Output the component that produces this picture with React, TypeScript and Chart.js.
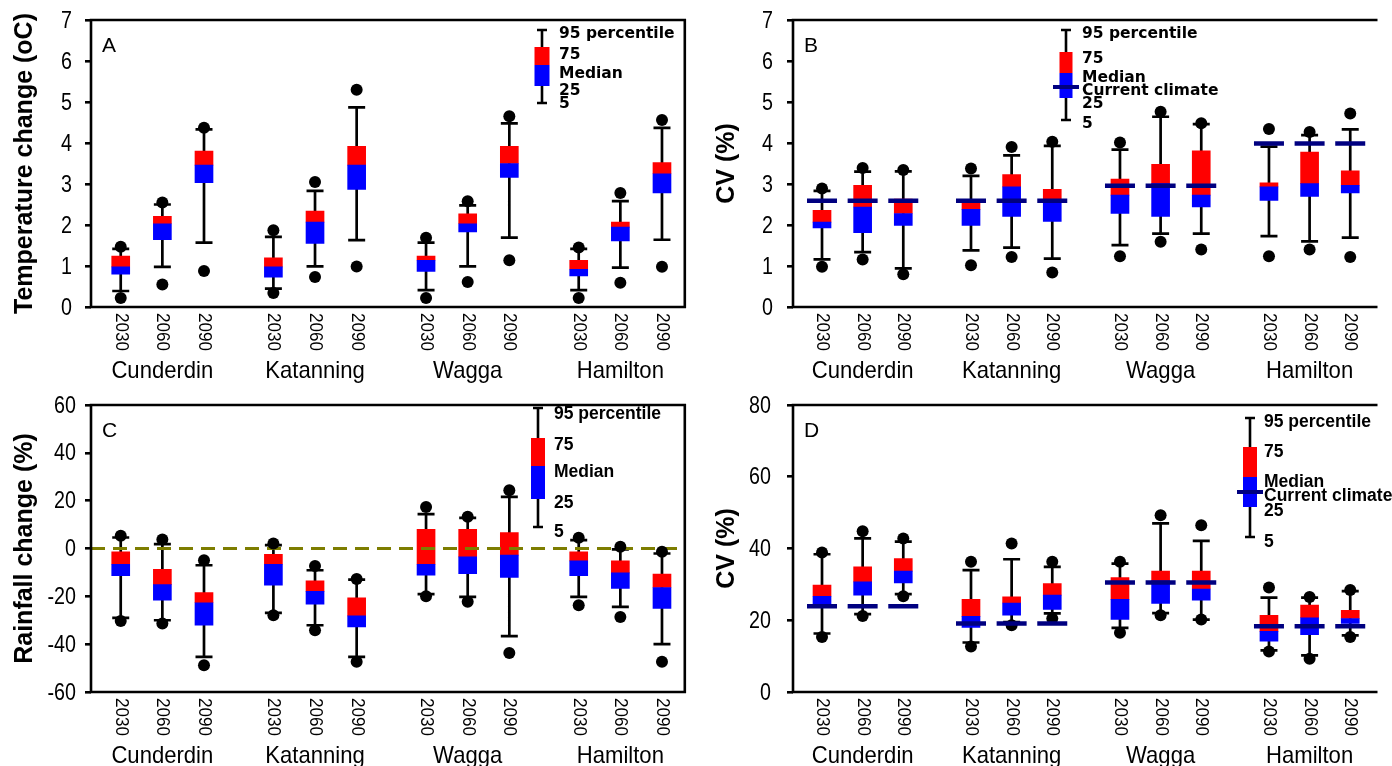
import React, { useEffect, useRef } from "react";
import { Chart, registerables } from "chart.js";

Chart.register(...registerables);

const stations = ["Cunderdin", "Katanning", "Wagga", "Hamilton"];
const periods = ["2030", "2060", "2090"];
const GROUP_STEP = 11 / 3;

// Panel A – temperature change (oC), boxes ordered station-major
const tempP5 = [0.39, 0.98, 1.57, 0.45, 0.99, 1.63, 0.41, 0.99, 1.69, 0.41, 0.96, 1.64];
const tempP25 = [0.8, 1.64, 3.03, 0.73, 1.55, 2.87, 0.87, 1.83, 3.16, 0.76, 1.61, 2.78];
const tempMedian = [0.98, 2.03, 3.46, 0.98, 2.07, 3.46, 1.14, 2.03, 3.5, 0.92, 1.95, 3.25];
const tempP75 = [1.24, 2.21, 3.8, 1.2, 2.34, 3.92, 1.24, 2.27, 3.92, 1.14, 2.07, 3.52];
const tempP95 = [1.42, 2.5, 4.33, 1.71, 2.83, 4.87, 1.57, 2.48, 4.48, 1.42, 2.58, 4.37];
const tempMin = [0.22, 0.55, 0.88, 0.34, 0.73, 0.99, 0.22, 0.61, 1.14, 0.22, 0.59, 0.98];
const tempMax = [1.47, 2.55, 4.37, 1.87, 3.05, 5.3, 1.69, 2.58, 4.65, 1.45, 2.78, 4.56];

// Panel B – CV (%) of temperature
const cvTP5 = [1.16, 1.34, 0.94, 1.38, 1.45, 1.18, 1.51, 1.79, 1.79, 1.73, 1.6, 1.69];
const cvTP25 = [1.93, 1.81, 1.99, 1.99, 2.21, 2.09, 2.28, 2.21, 2.44, 2.6, 2.7, 2.78];
const cvTMedian = [2.07, 2.44, 2.28, 2.38, 2.93, 2.62, 2.73, 3.01, 2.73, 2.93, 3.01, 2.97];
const cvTP75 = [2.36, 2.97, 2.63, 2.59, 3.23, 2.87, 3.12, 3.48, 3.81, 3.03, 3.78, 3.32];
const cvTP95 = [2.83, 3.3, 3.31, 3.2, 3.7, 3.93, 3.84, 4.64, 4.46, 3.91, 4.19, 4.33];
const cvTMin = [0.98, 1.16, 0.8, 1.02, 1.22, 0.84, 1.24, 1.59, 1.4, 1.24, 1.4, 1.22];
const cvTMax = [2.89, 3.39, 3.34, 3.38, 3.9, 4.03, 4.01, 4.76, 4.48, 4.34, 4.27, 4.72];
const cvTCurrent = [2.59, 2.59, 2.96, 3.99];

// Panel C – rainfall change (%)
const rainP5 = [-29, -30, -45.3, -26.9, -32.1, -45.3, -19.1, -20.2, -36.6, -20.2, -24.4, -40];
const rainP25 = [-11.4, -21.6, -32.1, -15.3, -23.3, -32.8, -11.2, -10.5, -12.1, -11.4, -16.7, -25.1];
const rainMedian = [-6.6, -15.1, -22.7, -6.6, -17.9, -28.2, -6.6, -3.5, -2.8, -5.2, -10.2, -16.3];
const rainP75 = [-1.4, -8.7, -18.4, -2.4, -13.5, -20.6, 8, 8, 6.7, -1.4, -5.2, -10.7];
const rainP95 = [4.6, 1.8, -7, 1.4, -9.1, -13, 14.4, 12.8, 21.6, 3.5, -0.4, -2.1];
const rainMin = [-30.3, -31.4, -48.8, -27.9, -34.2, -47.4, -20, -22.3, -43.7, -23.7, -28.6, -47.4];
const rainMax = [5.3, 3.8, -4.9, 2.1, -7.3, -12.8, 17.4, 13.3, 24.4, 4.5, 0.7, -1.4];

// Panel D – CV (%) of rainfall
const cvRP5 = [16.3, 21.7, 27.3, 13.8, 19.5, 21.9, 17.9, 22, 20.2, 11.6, 10.2, 15.8];
const cvRP25 = [23.7, 27, 30.4, 18, 21.4, 23, 20.2, 24.7, 25.6, 14.2, 16, 19.1];
const cvRMedian = [26.7, 30.7, 33.7, 21.1, 24.8, 27, 25.8, 31, 28.7, 16.9, 20.7, 20.5];
const cvRP75 = [29.8, 34.9, 37.2, 25.8, 26.5, 30.2, 31.9, 33.7, 33.7, 21.4, 24.2, 22.8];
const cvRP95 = [38.4, 42.8, 41.9, 34, 37, 34.9, 35.8, 47, 42.1, 26.3, 26.3, 28.1];
const cvRMin = [15.3, 21.2, 26.7, 12.7, 18.6, 20.5, 16.5, 21.4, 20.2, 11.3, 9.3, 15.3];
const cvRMax = [38.9, 44.8, 42.8, 36.3, 41.4, 36.3, 36.3, 49.3, 46.5, 29.1, 26.5, 28.4];
const cvRCurrent = [23.9, 19.1, 30.5, 18.3];

const yTicksA = { min: 0, max: 7, step: 1 };
const yTicksB = { min: 0, max: 7, step: 1 };
const yTicksC = { min: -60, max: 60, step: 20 };
const yTicksD = { min: 0, max: 80, step: 20 };

const X_MIN = -0.714;
const X_MAX = 13.548;

type LegendSpec = {
  dx: number; capTop: number; redTop: number; mid: number; blueBottom: number; capBottom: number;
  boxW: number; climate?: number; textDx: number; font: string; rows: [string, number][];
};

type Panel = {
  letter: string; title: string;
  p5: number[]; p25: number[]; med: number[]; p75: number[]; p95: number[]; mins: number[]; maxs: number[];
  current?: number[]; zero?: boolean; ticks: { min: number; max: number; step: number };
  left: number; top: number; w: number; h: number; padTop: number; padRight: number; xH: number;
  openRight: boolean; tickRight: number; legend: LegendSpec;
};

const LEG_AB_FONT = 'bold 15.5px "DejaVu Sans", Verdana, sans-serif';
const LEG_CD_FONT = 'bold 17.5px "Liberation Sans", Arial, sans-serif';

const panels: Panel[] = [
  {
    letter: "A", title: "Temperature change (oC)",
    p5: tempP5, p25: tempP25, med: tempMedian, p75: tempP75, p95: tempP95, mins: tempMin, maxs: tempMax,
    ticks: yTicksA, left: 0, top: 0, w: 696, h: 385, padTop: 20, padRight: 6, xH: 78, openRight: false, tickRight: 19,
    legend: { dx: 451, capTop: 10, redTop: 27, mid: 45, blueBottom: 66, capBottom: 83, boxW: 15, textDx: 468, font: LEG_AB_FONT,
      rows: [["95 percentile", 18], ["75", 39], ["Median", 58], ["25", 75], ["5", 88]] },
  },
  {
    letter: "B", title: "CV (%)",
    p5: cvTP5, p25: cvTP25, med: cvTMedian, p75: cvTP75, p95: cvTP95, mins: cvTMin, maxs: cvTMax, current: cvTCurrent,
    ticks: yTicksB, left: 702, top: 0, w: 690, h: 385, padTop: 20, padRight: 0, xH: 78, openRight: true, tickRight: 20,
    legend: { dx: 273, capTop: 10, redTop: 32, mid: 53, blueBottom: 78, capBottom: 100, boxW: 13, climate: 67, textDx: 289, font: LEG_AB_FONT,
      rows: [["95 percentile", 18], ["75", 43], ["Median", 62], ["Current climate", 75], ["25", 88], ["5", 108]] },
  },
  {
    letter: "C", title: "Rainfall change (%)",
    p5: rainP5, p25: rainP25, med: rainMedian, p75: rainP75, p95: rainP95, mins: rainMin, maxs: rainMax, zero: true,
    ticks: yTicksC, left: 0, top: 385, w: 696, h: 381, padTop: 20, padRight: 6, xH: 74, openRight: false, tickRight: 15,
    legend: { dx: 447, capTop: 3, redTop: 33, mid: 61, blueBottom: 94, capBottom: 122, boxW: 14, textDx: 463, font: LEG_CD_FONT,
      rows: [["95 percentile", 14], ["75", 45], ["Median", 72], ["25", 103], ["5", 132]] },
  },
  {
    letter: "D", title: "CV (%)",
    p5: cvRP5, p25: cvRP25, med: cvRMedian, p75: cvRP75, p95: cvRP95, mins: cvRMin, maxs: cvRMax, current: cvRCurrent,
    ticks: yTicksD, left: 702, top: 385, w: 690, h: 381, padTop: 20, padRight: 0, xH: 74, openRight: true, tickRight: 22,
    legend: { dx: 457, capTop: 13, redTop: 42, mid: 72, blueBottom: 102, capBottom: 132, boxW: 14, climate: 87, textDx: 471, font: LEG_CD_FONT,
      rows: [["95 percentile", 22], ["75", 52], ["Median", 82], ["Current climate", 96], ["25", 111], ["5", 142]] },
  },
];

const Y_AXIS_W = 91;

function positions(): number[] {
  const xs: number[] = [];
  stations.forEach((_, g) => periods.forEach((_, s) => xs.push(g * GROUP_STEP + s)));
  return xs;
}

function makeChart(canvas: HTMLCanvasElement, p: Panel) {
  const xs = positions();
  const whisker: any[] = [];
  xs.forEach((x, i) => {
    whisker.push({ x, y: p.p5[i] }, { x, y: p.p95[i] }, { x, y: null });
  });
  const dots: any[] = [];
  xs.forEach((x, i) => {
    dots.push({ x, y: p.mins[i] }, { x, y: p.maxs[i] });
  });
  const datasets: any[] = [
    {
      type: "line", data: whisker, borderColor: "#000", borderWidth: 2.7, spanGaps: false,
      pointStyle: "line", pointRadius: 8.5, pointBorderWidth: 2.7, pointBorderColor: "#000", order: 5,
    },
    {
      type: "bar", data: xs.map((x, i) => ({ x, y: [p.p25[i], p.med[i]] })), backgroundColor: "#0000ff",
      barThickness: 18, grouped: false, borderWidth: 0, order: 3,
    },
    {
      type: "bar", data: xs.map((x, i) => ({ x, y: [p.med[i], p.p75[i]] })), backgroundColor: "#ff0000",
      barThickness: 18, grouped: false, borderWidth: 0, order: 3,
    },
    {
      type: "scatter", data: dots, pointRadius: 6, backgroundColor: "#000", borderColor: "#000",
      pointBorderWidth: 0, order: 1,
    },
  ];
  if (p.current) {
    const cur = p.current;
    datasets.push({
      type: "scatter", data: xs.map((x, i) => ({ x, y: cur[Math.floor(i / periods.length)] })),
      pointStyle: "line", pointRadius: 15, pointBorderWidth: 4.5, borderColor: "#000080", backgroundColor: "#000080", order: 0,
    });
  }
  if (p.zero) {
    datasets.push({
      type: "line", data: [{ x: X_MIN, y: 0 }, { x: X_MAX, y: 0 }], borderColor: "#7d7d00", borderWidth: 3,
      borderDash: [14, 8], pointRadius: 0, order: 2,
    });
  }

  const decor = {
    id: "decor",
    afterDraw(chart: any) {
      const { ctx, chartArea: a } = chart;
      const xS = chart.scales.x;
      const yS = chart.scales.y;
      ctx.save();
      ctx.strokeStyle = "#000";
      ctx.lineWidth = 2.6;
      ctx.beginPath();
      if (p.openRight) {
        ctx.moveTo(a.right + 5, a.top);
        ctx.lineTo(a.left, a.top);
        ctx.lineTo(a.left, a.bottom);
        ctx.lineTo(a.right + 5, a.bottom);
      } else {
        ctx.rect(a.left, a.top, a.right - a.left, a.bottom - a.top);
      }
      ctx.stroke();

      ctx.fillStyle = "#000";
      // y tick labels (condensed)
      ctx.font = '24px "Liberation Sans", Arial, sans-serif';
      ctx.textAlign = "right";
      ctx.textBaseline = "middle";
      yS.ticks.forEach((t: any) => {
        const py = yS.getPixelForValue(t.value);
        ctx.save();
        ctx.translate(a.left - p.tickRight, py);
        ctx.scale(0.82, 1);
        ctx.fillText(String(t.value), 0, 1);
        ctx.restore();
      });

      // panel letter
      ctx.font = '21px "Liberation Sans", Arial, sans-serif';
      ctx.textAlign = "left";
      ctx.textBaseline = "alphabetic";
      ctx.fillText(p.letter, a.left + 11, a.top + 32);

      // year labels, rotated clockwise
      ctx.font = '18px "Liberation Sans", Arial, sans-serif';
      xs.forEach((x, i) => {
        const px = xS.getPixelForValue(x);
        ctx.save();
        ctx.translate(px, a.bottom + 6);
        ctx.rotate(Math.PI / 2);
        ctx.scale(0.95, 1);
        ctx.textAlign = "left";
        ctx.textBaseline = "middle";
        ctx.fillText(periods[i % periods.length], 0, 0);
        ctx.restore();
      });

      // station labels
      ctx.font = '24px "Liberation Sans", Arial, sans-serif';
      ctx.textAlign = "center";
      ctx.textBaseline = "alphabetic";
      stations.forEach((st, g) => {
        const px = xS.getPixelForValue(g * GROUP_STEP + 1);
        ctx.save();
        ctx.translate(px, a.bottom + 71);
        ctx.scale(0.92, 1);
        ctx.fillText(st, 0, 0);
        ctx.restore();
      });

      // y title
      ctx.save();
      ctx.font = 'bold 25px "Liberation Sans", Arial, sans-serif';
      ctx.translate(25, (a.top + a.bottom) / 2);
      ctx.rotate(-Math.PI / 2);
      ctx.textAlign = "center";
      ctx.textBaseline = "middle";
      ctx.fillText(p.title, 0, 0);
      ctx.restore();

      // legend
      const L = p.legend;
      const lx = a.left + L.dx;
      const ty = a.top;
      ctx.lineWidth = 2.6;
      ctx.beginPath();
      ctx.moveTo(lx, ty + L.capTop);
      ctx.lineTo(lx, ty + L.capBottom);
      ctx.moveTo(lx - 5, ty + L.capTop);
      ctx.lineTo(lx + 5, ty + L.capTop);
      ctx.moveTo(lx - 5, ty + L.capBottom);
      ctx.lineTo(lx + 5, ty + L.capBottom);
      ctx.stroke();
      ctx.fillStyle = "#ff0000";
      ctx.fillRect(lx - L.boxW / 2, ty + L.redTop, L.boxW, L.mid - L.redTop);
      ctx.fillStyle = "#0000ff";
      ctx.fillRect(lx - L.boxW / 2, ty + L.mid, L.boxW, L.blueBottom - L.mid);
      if (L.climate !== undefined) {
        ctx.strokeStyle = "#000080";
        ctx.lineWidth = 4;
        ctx.beginPath();
        ctx.moveTo(lx - 13, ty + L.climate);
        ctx.lineTo(lx + 13, ty + L.climate);
        ctx.stroke();
      }
      ctx.fillStyle = "#000";
      ctx.font = L.font;
      ctx.textAlign = "left";
      ctx.textBaseline = "alphabetic";
      L.rows.forEach(([t, y]) => ctx.fillText(t, a.left + L.textDx, ty + y));
      ctx.restore();
    },
  };

  return new Chart(canvas, {
    type: "bar",
    data: { datasets },
    options: {
      responsive: false,
      animation: false,
      events: [],
      layout: { padding: { top: p.padTop, right: p.padRight, left: 0, bottom: 0 } },
      plugins: { legend: { display: false }, tooltip: { enabled: false } },
      scales: {
        x: {
          type: "linear", min: X_MIN, max: X_MAX, offset: false,
          ticks: { display: false }, grid: { display: false }, border: { display: false },
          afterFit: (s: any) => { s.height = p.xH; },
        },
        y: {
          type: "linear", min: p.ticks.min, max: p.ticks.max,
          ticks: { stepSize: p.ticks.step, display: false },
          grid: { display: true, drawOnChartArea: false, drawTicks: true, tickLength: 6, color: "#000", lineWidth: 2.6 },
          border: { display: false },
          afterFit: (s: any) => { s.width = Y_AXIS_W; },
        },
      },
    } as any,
    plugins: [decor],
  });
}

function PanelChart({ p }: { p: Panel }) {
  const ref = useRef<HTMLCanvasElement | null>(null);
  useEffect(() => {
    if (!ref.current) return;
    const chart = makeChart(ref.current, p);
    return () => chart.destroy();
  }, [p]);
  return (
    <canvas
      ref={ref}
      width={p.w}
      height={p.h}
      style={{ position: "absolute", left: p.left, top: p.top, width: p.w, height: p.h }}
    />
  );
}

export default function App() {
  return (
    <div style={{ position: "fixed", left: 0, top: 0, width: 1392, height: 766, overflow: "hidden", background: "#fff" }}>
      {panels.map((p) => (
        <PanelChart key={p.letter} p={p} />
      ))}
    </div>
  );
}
